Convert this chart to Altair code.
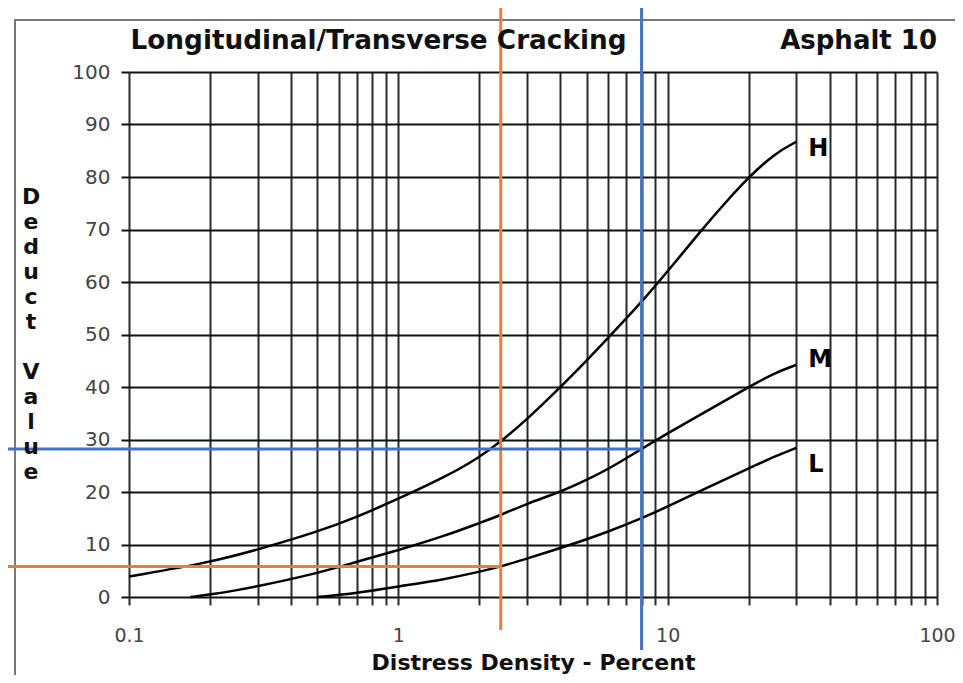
import altair as alt
import pandas as pd

# ---- data ----
h_x = [0.1, 0.2, 0.3, 0.5, 0.7, 1.0, 1.5, 2.0, 2.4, 3.0, 4.0, 5.0, 6.0, 7.0, 8.0, 10, 13.4, 16.3, 20, 25, 30]
h_y = [3.9, 6.6, 9.0, 12.4, 15.2, 18.7, 22.9, 26.6, 29.6, 33.8, 40, 45, 49.3, 53, 56.2, 62, 70, 75, 80, 84.5, 86.7]

m_x = [0.169, 0.2, 0.3, 0.5, 0.7, 1.0, 1.5, 2.0, 2.4, 3.0, 4.0, 5.0, 6.0, 8.0, 10, 15, 20, 25, 30]
m_y = [0, 0.4, 2.0, 4.5, 6.7, 8.9, 11.7, 14.1, 15.6, 17.8, 20, 22.3, 24.3, 28.2, 31.2, 36.3, 40, 42.7, 44.2]

l_x = [0.5, 0.7, 1.0, 1.5, 2.0, 2.4, 3.0, 4.4, 6.0, 8.0, 10, 14, 20, 25, 30]
l_y = [0, 0.7, 2.0, 3.4, 4.8, 5.8, 7.3, 10, 12.4, 15.0, 17.2, 20.8, 24.5, 26.8, 28.4]

curve_labels = ["H", "M", "L"]
label_x = [30, 30, 30]
label_y = [85.3, 45.1, 25.1]

x_ticks = [0.1, 0.2, 0.3, 0.4, 0.5, 0.6, 0.7, 0.8, 0.9,
           1, 2, 3, 4, 5, 6, 7, 8, 9,
           10, 20, 30, 40, 50, 60, 70, 80, 90, 100]
y_ticks = [0, 10, 20, 30, 40, 50, 60, 70, 80, 90, 100]

# annotation guide lines (orange: example at 2.4 %, blue: at 8 %)
orange_x, orange_y = 2.4, 5.8
blue_x, blue_y = 8.0, 28.2
guide_top = 112.2
orange_bottom = -6.3
blue_bottom = -10.1
guide_left = 0.0346

title_text = "Longitudinal/Transverse Cracking"
corner_text = "Asphalt 10"
y_title_words = ["Deduct", "Value"]
x_title = "Distress Density - Percent"

FONT = "DejaVu Sans"

rows = []
for name, xs, ys in (("H", h_x, h_y), ("M", m_x, m_y), ("L", l_x, l_y)):
    for xv, yv in zip(xs, ys):
        rows.append({"level": name, "x": xv, "y": yv})
curves_df = pd.DataFrame(rows)

xscale = alt.Scale(type="log", domain=[0.1, 100], nice=False)
yscale = alt.Scale(domain=[0, 100], nice=False, zero=False)

label_expr = "(datum.value==0.1||datum.value==1||datum.value==10||datum.value==100) ? toString(datum.value) : ''"

x_axis = alt.Axis(values=x_ticks, labelExpr=label_expr, grid=True, gridColor="#2a2a2a",
                  gridWidth=2, gridOpacity=1, tickColor="#2a2a2a", tickWidth=2, tickSize=8,
                  domain=False, labelFlush=False, labelOverlap=False, labelFont=FONT,
                  labelFontSize=19, labelColor="#444444", labelBaseline="middle", labelPadding=30,
                  title=x_title, titleFont=FONT, titleFontSize=22, titleFontWeight="bold",
                  titleColor="#111111", titleBaseline="alphabetic", titleY=72)
y_axis = alt.Axis(values=y_ticks, grid=True, gridColor="#111111", gridWidth=2, gridOpacity=1,
                  tickColor="#111111", tickWidth=2, tickSize=8, domain=False,
                  labelFont=FONT, labelFontSize=20, labelColor="#444444", labelPadding=11,
                  title=None)

base = alt.Chart(curves_df)

curves = base.mark_line(color="black", strokeWidth=2.5, interpolate="basis").encode(
    x=alt.X("x:Q", scale=xscale, axis=x_axis),
    y=alt.Y("y:Q", scale=yscale, axis=y_axis),
    detail="level:N",
)

lab_df = pd.DataFrame({"t": curve_labels, "x": label_x, "y": label_y})
labels = alt.Chart(lab_df).mark_text(align="left", baseline="middle", dx=12, font=FONT,
                                     fontSize=24, fontWeight="bold", color="black").encode(
    x=alt.X("x:Q", scale=xscale), y=alt.Y("y:Q", scale=yscale), text="t:N")

vdf = pd.DataFrame({"x": [orange_x, blue_x], "y1": [guide_top, guide_top],
                    "y2": [orange_bottom, blue_bottom], "c": ["#ED7D31", "#4472C4"]})
hdf = pd.DataFrame({"x1": [guide_left, guide_left], "x2": [orange_x, blue_x],
                    "y": [orange_y, blue_y], "c": ["#ED7D31", "#4472C4"]})

vrules = alt.Chart(vdf).mark_rule(strokeWidth=3, clip=False).encode(
    x=alt.X("x:Q", scale=xscale), y=alt.Y("y1:Q", scale=yscale), y2="y2:Q",
    color=alt.Color("c:N", scale=None))
hrules = alt.Chart(hdf).mark_rule(strokeWidth=3, clip=False).encode(
    x=alt.X("x1:Q", scale=xscale), x2="x2:Q", y=alt.Y("y:Q", scale=yscale),
    color=alt.Color("c:N", scale=None))

frame = alt.Chart(pd.DataFrame({"a": [0]})).mark_rect(fill=None, stroke="#777777", strokeWidth=2).encode(
    x=alt.value(-114), x2=alt.value(840), y=alt.value(-52), y2=alt.value(620))

tdf = pd.DataFrame({"t": [title_text]})
title = alt.Chart(tdf).mark_text(align="center", baseline="alphabetic", font=FONT, fontSize=26.3,
                                 fontWeight="bold", color="#111111").encode(
    x=alt.value(249.5), y=alt.value(-23), text="t:N")
cdf = pd.DataFrame({"t": [corner_text]})
corner = alt.Chart(cdf).mark_text(align="right", baseline="alphabetic", font=FONT, fontSize=26,
                                  fontWeight="bold", color="#111111").encode(
    x=alt.value(808), y=alt.value(-23), text="t:N")

# vertical stacked y-axis title, one word per text block
w1 = alt.Chart(pd.DataFrame({"t": ["\n".join(y_title_words[0])]})).mark_text(
    align="center", baseline="middle", lineBreak="\n", lineHeight=25, font=FONT, fontSize=22,
    fontWeight="bold", color="#111111").encode(x=alt.value(-98), y=alt.value(125), text="t:N")
w2 = alt.Chart(pd.DataFrame({"t": ["\n".join(y_title_words[1])]})).mark_text(
    align="center", baseline="middle", lineBreak="\n", lineHeight=25, font=FONT, fontSize=22,
    fontWeight="bold", color="#111111").encode(x=alt.value(-98), y=alt.value(300), text="t:N")

chart = alt.layer(frame, curves, labels, vrules, hrules, title, corner, w1, w2).properties(
    width=808, height=525,
    autosize=alt.AutoSizeParams(type="none"),
    padding={"left": 121, "top": 64, "right": 18, "bottom": 78},
).configure_view(stroke=None)

chart.save("out.html", embed_options={"renderer": "svg", "actions": False})
